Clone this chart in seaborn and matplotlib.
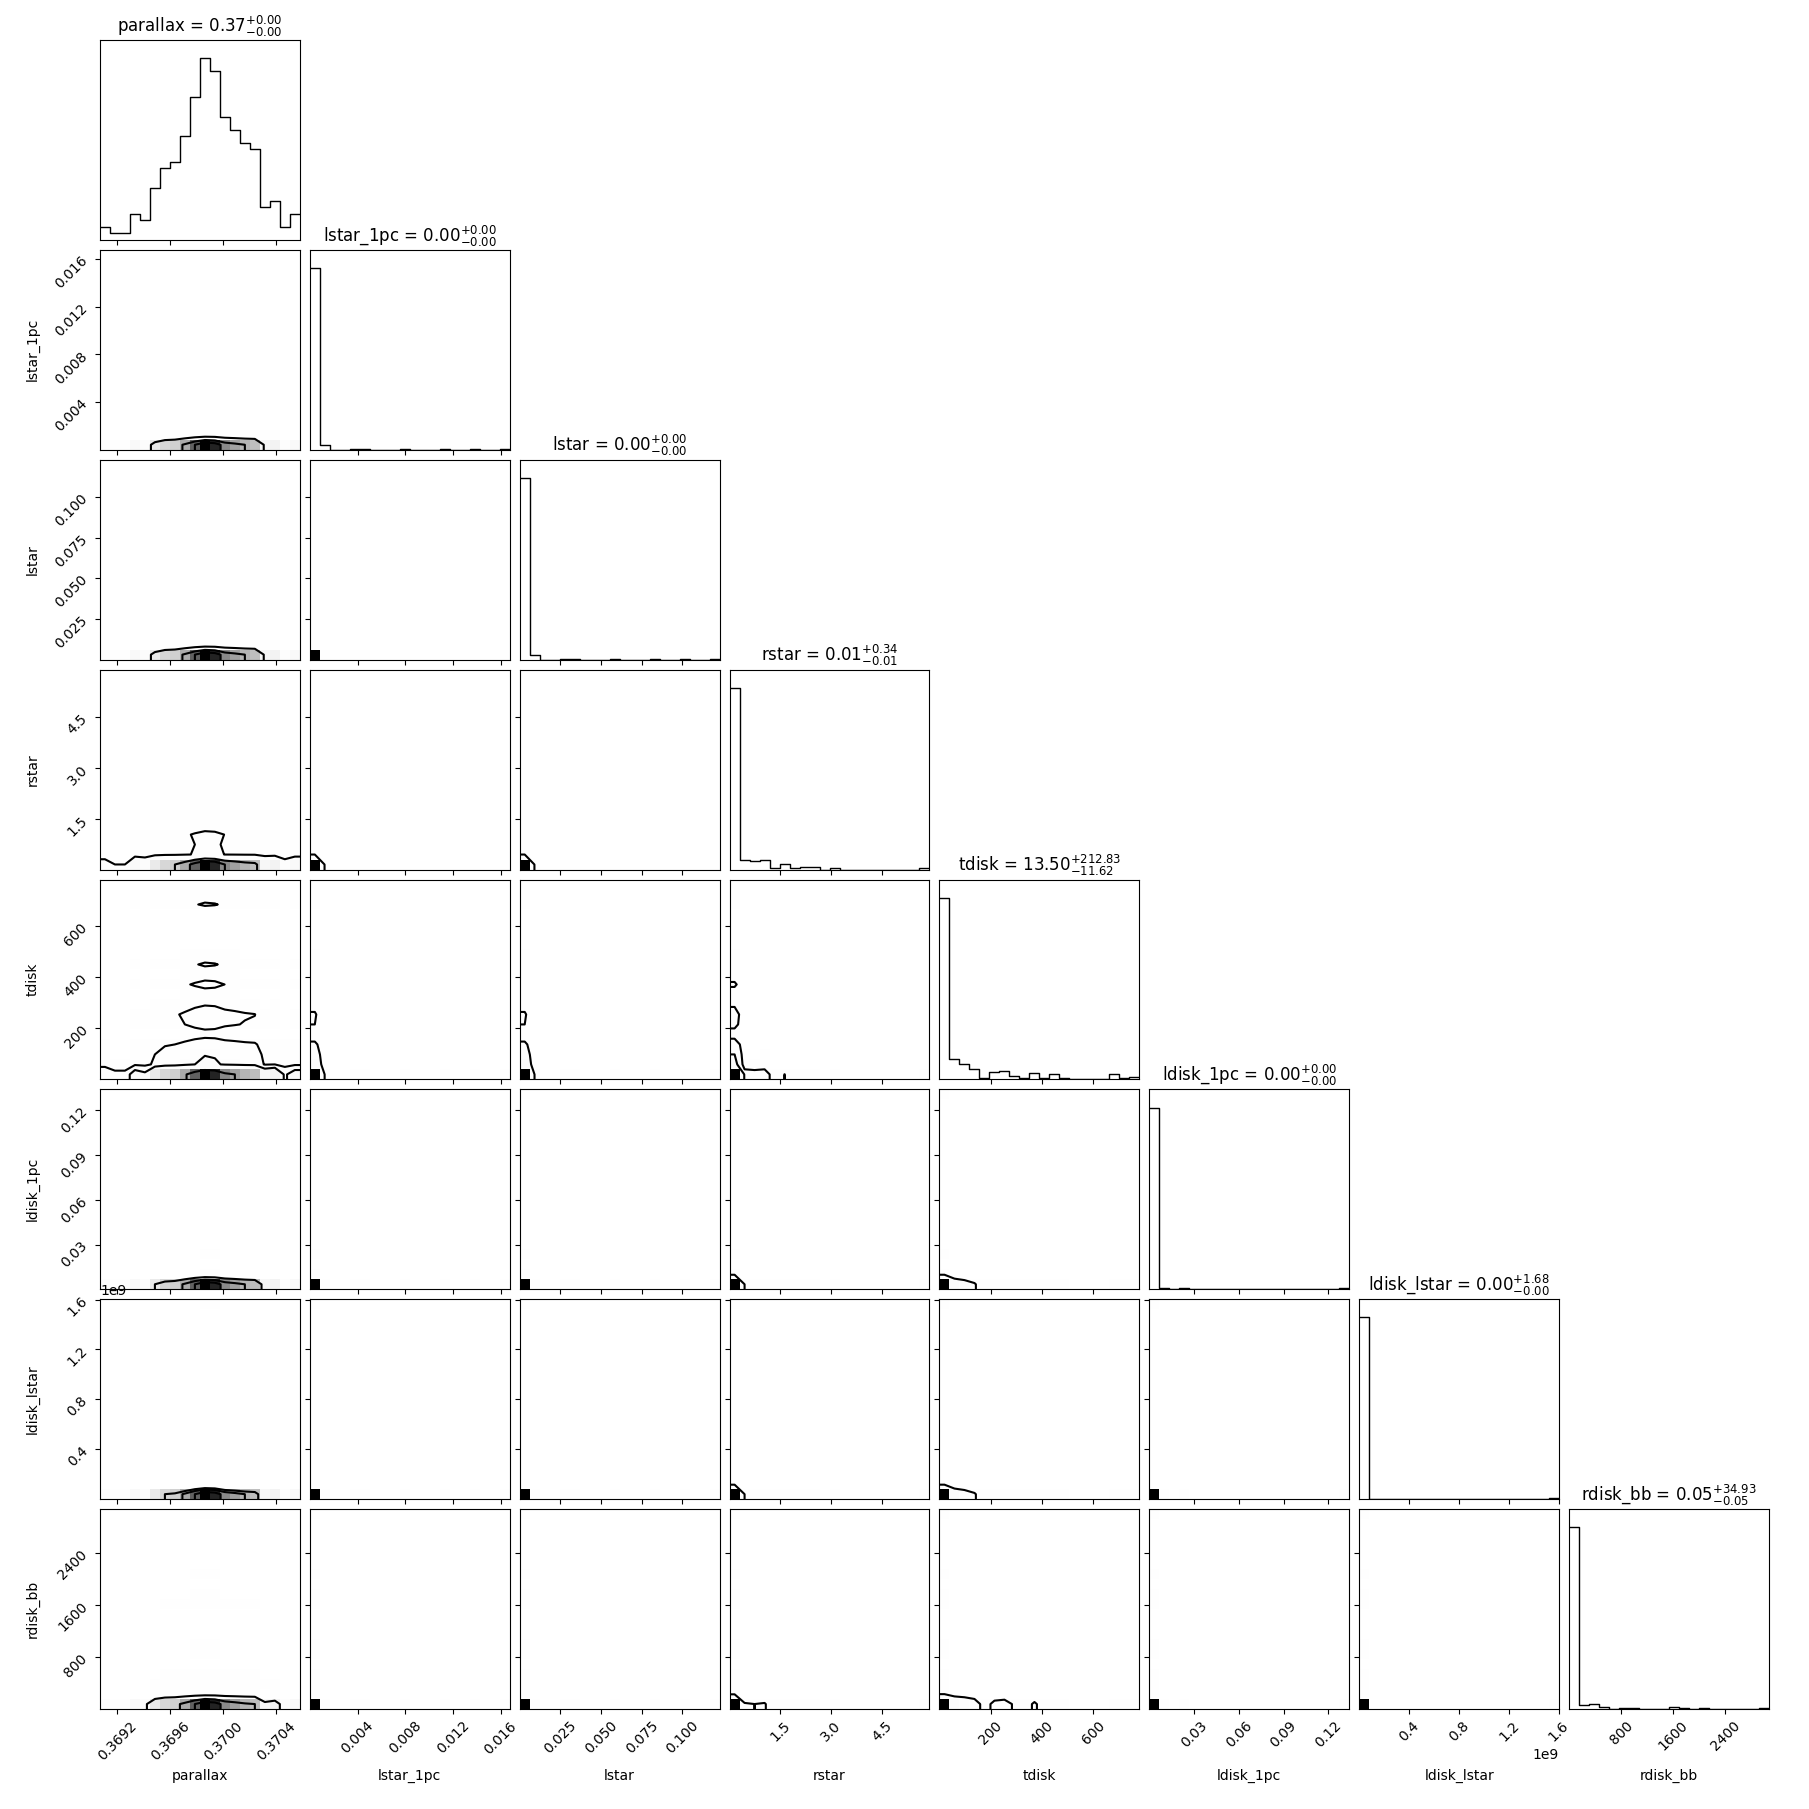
import numpy as np
import matplotlib
matplotlib.use("Agg")
import matplotlib.pyplot as plt
import seaborn as sns
from matplotlib.colors import LinearSegmentedColormap
from matplotlib.ticker import MaxNLocator, NullLocator

labels = ["parallax", "lstar_1pc", "lstar", "rstar", "tdisk",
          "ldisk_1pc", "ldisk_lstar", "rdisk_bb"]

# 20-bin histogram counts (216 samples)
parallax_counts = [2, 1, 1, 4, 3, 8, 11, 12, 16, 22, 28, 26, 19, 17, 15, 14, 5, 6, 2, 4]
lstar_1pc_counts = [205, 5, 0, 0, 1, 1, 0, 0, 0, 1, 0, 0, 0, 1, 0, 0, 1, 0, 0, 1]
lstar_counts = [205, 5, 0, 0, 1, 1, 0, 0, 0, 1, 0, 0, 0, 1, 0, 0, 1, 0, 0, 1]
rstar_counts = [177, 9, 8, 9, 1, 5, 1, 2, 2, 0, 1, 0, 0, 0, 0, 0, 0, 0, 0, 1]
tdisk_counts = [144, 16, 12, 8, 1, 6, 7, 3, 1, 5, 1, 4, 1, 0, 0, 0, 0, 4, 1, 2]
ldisk_1pc_counts = [213, 1, 0, 1, 0, 0, 0, 0, 0, 0, 0, 0, 0, 0, 0, 0, 0, 0, 0, 1]
ldisk_lstar_counts = [215, 0, 0, 0, 0, 0, 0, 0, 0, 0, 0, 0, 0, 0, 0, 0, 0, 0, 0, 1]
rdisk_bb_counts = [198, 4, 5, 2, 0, 1, 1, 0, 0, 0, 2, 1, 0, 1, 0, 0, 0, 0, 0, 1]

# axis ranges (min, max of the samples)
parallax_range = (0.36907, 0.37058)
lstar_1pc_range = (0.0, 0.01676)
lstar_range = (0.0, 0.1228)
rstar_range = (0.02, 5.89)
tdisk_range = (0.0, 780.0)
ldisk_1pc_range = (0.0, 0.134)
ldisk_lstar_range = (0.0, 1.602e9)
rdisk_bb_range = (0.0, 3070.0)

# title quantiles: median, minus, plus
q50 = [0.37, 0.00, 0.00, 0.01, 13.50, 0.00, 0.00, 0.05]
q_minus = [0.00, 0.00, 0.00, 0.01, 11.62, 0.00, 0.00, 0.05]
q_plus = [0.00, 0.00, 0.00, 0.34, 212.83, 0.00, 1.68, 34.93]

counts = [parallax_counts, lstar_1pc_counts, lstar_counts, rstar_counts,
          tdisk_counts, ldisk_1pc_counts, ldisk_lstar_counts, rdisk_bb_counts]
ranges = [parallax_range, lstar_1pc_range, lstar_range, rstar_range,
          tdisk_range, ldisk_1pc_range, ldisk_lstar_range, rdisk_bb_range]

K = len(labels)
nbins = 20
levels = 1.0 - np.exp(-0.5 * np.arange(0.5, 2.1, 0.5) ** 2)
density_cmap = LinearSegmentedColormap.from_list("density", [(1, 1, 1, 0), "k"])


def edges_of(i):
    lo, hi = ranges[i]
    return np.linspace(lo, hi, nbins + 1)


def contour_levels(H):
    Hflat = np.sort(H.flatten())[::-1]
    sm = np.cumsum(Hflat)
    sm /= sm[-1]
    V = np.empty(len(levels))
    for k, v0 in enumerate(levels):
        try:
            V[k] = Hflat[sm <= v0][-1]
        except IndexError:
            V[k] = Hflat[0]
    V.sort()
    m = np.diff(V) == 0
    while np.any(m):
        V[np.where(m)[0][0]] *= 1.0 - 1e-4
        m = np.diff(V) == 0
    V.sort()
    return V


def padded(H, X, Y):
    X1 = 0.5 * (X[1:] + X[:-1])
    Y1 = 0.5 * (Y[1:] + Y[:-1])
    H2 = H.min() + np.zeros((H.shape[0] + 4, H.shape[1] + 4))
    H2[2:-2, 2:-2] = H
    H2[2:-2, 1] = H[:, 0]
    H2[2:-2, -2] = H[:, -1]
    H2[1, 2:-2] = H[0]
    H2[-2, 2:-2] = H[-1]
    H2[1, 1] = H[0, 0]
    H2[1, -2] = H[0, -1]
    H2[-2, 1] = H[-1, 0]
    H2[-2, -2] = H[-1, -1]
    X2 = np.concatenate([X1[0] + np.array([-2, -1]) * np.diff(X1[:2]), X1,
                         X1[-1] + np.array([1, 2]) * np.diff(X1[-2:])])
    Y2 = np.concatenate([Y1[0] + np.array([-2, -1]) * np.diff(Y1[:2]), Y1,
                         Y1[-1] + np.array([1, 2]) * np.diff(Y1[-2:])])
    return X2, Y2, H2


fig, axes = plt.subplots(K, K, figsize=(18.09, 18.09))
lb = 1.0 / 18.1
tr = 17.7 / 18.1
fig.subplots_adjust(left=lb, bottom=lb, right=tr, top=tr, wspace=0.05, hspace=0.05)

for i in range(K):
    for j in range(K):
        ax = axes[i, j]
        if j > i:
            ax.set_frame_on(False)
            ax.set_xticks([])
            ax.set_yticks([])
            continue

        xe = edges_of(j)
        xc = 0.5 * (xe[1:] + xe[:-1])

        if i == j:
            c = np.array(counts[i], dtype=float)
            sns.histplot(x=xc, weights=c, bins=nbins, binrange=ranges[i],
                         element="step", fill=False, color="k", linewidth=1.0, ax=ax)
            ax.set_xlim(*ranges[i])
            ax.set_ylim(0, 1.1 * c.max())
            ax.set_ylabel("")
            ax.yaxis.set_major_locator(NullLocator())
            ax.set_title("{0} = ${1:.2f}_{{-{2:.2f}}}^{{+{3:.2f}}}$".format(
                labels[i], q50[i], q_minus[i], q_plus[i]), fontsize=12)
        else:
            ye = edges_of(i)
            yc = 0.5 * (ye[1:] + ye[:-1])
            cx = np.array(counts[j], dtype=float)
            cy = np.array(counts[i], dtype=float)
            H = np.outer(cx, cy) / cx.sum()
            gx, gy = np.meshgrid(xc, yc, indexing="ij")
            sns.histplot(x=gx.ravel(), y=gy.ravel(), weights=H.ravel(),
                         bins=nbins, binrange=(ranges[j], ranges[i]),
                         cmap=density_cmap, vmin=0, vmax=H.max(), ax=ax)
            V = contour_levels(H)
            X2, Y2, H2 = padded(H, xe, ye)
            ax.contour(X2, Y2, H2.T, V, colors="k", linewidths=1.5)
            ax.set_xlim(*ranges[j])
            ax.set_ylim(*ranges[i])
            ax.set_ylabel("")
            ax.yaxis.set_major_locator(MaxNLocator(5, prune="lower"))
            if j > 0:
                ax.set_yticklabels([])
            else:
                for t in ax.get_yticklabels():
                    t.set_rotation(45)
                ax.set_ylabel(labels[i])
                ax.yaxis.set_label_coords(-0.3, 0.5)

        ax.set_xlabel("")
        ax.xaxis.set_major_locator(MaxNLocator(5, prune="lower"))
        if i < K - 1:
            ax.set_xticklabels([])
        else:
            for t in ax.get_xticklabels():
                t.set_rotation(45)
            ax.set_xlabel(labels[j])
            ax.xaxis.set_label_coords(0.5, -0.3)

fig.savefig("out.png", dpi=100)
